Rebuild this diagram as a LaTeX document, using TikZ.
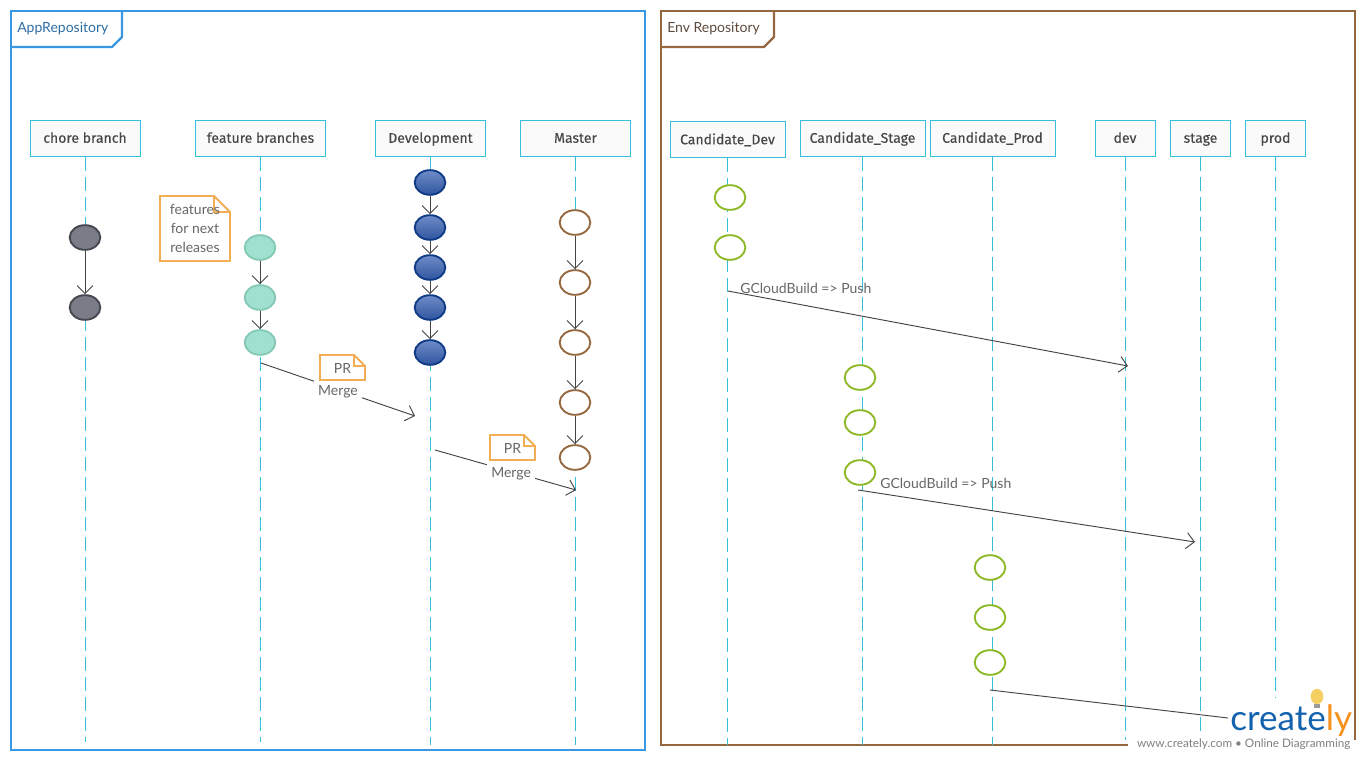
\documentclass[tikz,border=0pt]{standalone}
\usepackage{fontspec}
\setmainfont{Lato}
\newfontfamily\headfont[FakeBold=0.25]{Fira Sans}
\usetikzlibrary{shapes.geometric,arrows.meta,positioning}
\definecolor{appblue}{HTML}{3A97E0}
\definecolor{apptext}{HTML}{2E6DA4}
\definecolor{envbrown}{HTML}{96683F}
\definecolor{envtext}{HTML}{5E4A3C}
\definecolor{cyanline}{HTML}{35C1D9}
\definecolor{notebar}{HTML}{F2AE55}
\definecolor{lineink}{HTML}{444444}
\definecolor{labelink}{HTML}{666666}
\definecolor{limegreen}{HTML}{8DB825}
\definecolor{logoblue}{HTML}{1262AE}
\definecolor{logoorange}{HTML}{F6921E}
\definecolor{bulbyellow}{HTML}{F6CF63}
\definecolor{chorefill}{HTML}{7A7D88}
\definecolor{choreline}{HTML}{44474F}
\definecolor{featfill}{HTML}{A0E0D0}
\definecolor{featline}{HTML}{85C9B5}
\definecolor{devtop}{HTML}{6F8CC8}
\definecolor{devbot}{HTML}{2F559F}
\definecolor{devline}{HTML}{0F3A85}
\begin{document}
\begin{tikzpicture}[
    x=0.75pt, y=-0.75pt,
    head/.style={draw=cyanline, fill=black!2, line width=0.75pt, minimum height=27pt,
                 inner sep=0pt, text height=9.5pt, text depth=2.3pt, text=black!72,
                 font=\headfont\fontsize{10.5}{12}\selectfont},
    life/.style={draw=cyanline, line width=0.75pt, dash pattern=on 10.5pt off 4.5pt},
    frameapp/.style={draw=appblue, line width=1.6pt},
    frameenv/.style={draw=envbrown, line width=1.6pt},
    tabtext/.style={anchor=west, inner sep=0pt, font=\fontsize{10.5}{12}\selectfont},
    commit/.style={ellipse, minimum width=23pt, minimum height=18.5pt, inner sep=0pt, line width=1.4pt},
    chorec/.style={commit, draw=choreline, fill=chorefill},
    featc/.style={commit, draw=featline, fill=featfill},
    devc/.style={commit, draw=devline, top color=devtop, bottom color=devbot},
    mastc/.style={commit, draw=envbrown, fill=white},
    candc/.style={commit, draw=limegreen, fill=white},
    arr/.style={draw=lineink, line width=0.7pt, -{Straight Barb[length=6pt,width=12pt]}},
    note/.style={draw=notebar, fill=white, line width=1.4pt},
    lbl/.style={text=labelink, font=\fontsize{10.5}{14.25}\selectfont, inner sep=0pt},
    mergelbl/.style={lbl, fill=white, inner sep=3pt, yshift=-1.5pt}
]
\useasboundingbox (0,0) rectangle (1365,760);
% frames
\draw[frameapp] (11,11) rectangle (645,750);
\draw[frameapp] (11,47) -- (112,47) -- (122,37) -- (122,11);
\node[tabtext, text=apptext] (apptab) at (17,29) {AppRepository};
\draw[frameenv] (1128,745) -- (661,745) -- (661,11) -- (1355,11) -- (1355,740);
\draw[frameenv] (661,47) -- (764,47) -- (774,37) -- (774,11);
\node[tabtext, text=envtext] (envtab) at (667,29) {Env Repository};
% lifelines and their heads
\foreach \nm/\txt/\cx/\cy/\bw/\yend in {
    chore/chore branch/85/138/110/742,
    feature/feature branches/260.5/138/130/742,
    develop/Development/430.5/138/110/745,
    master/Master/575.5/138/110/745,
    canddev/Candidate\_Dev/727.5/139.5/115/745,
    candstage/Candidate\_Stage/862.5/138/125/745,
    candprod/Candidate\_Prod/992.5/138/125/745,
    dev/dev/1125/138/60/740,
    stage/stage/1200.5/138/60/735,
    prod/prod/1275.5/138/60/710} {
  \node[head, minimum width=\bw*0.75pt] (\nm) at (\cx,\cy) {\txt};
  \coordinate (\nm end) at (\cx,\yend);
  \draw[life] (\nm.south) -- (\nm end);
}
% commits
\foreach \nm/\sty/\cx/\cy in {
    ch1/chorec/85/237.5, ch2/chorec/85/307.5,
    fe1/featc/260/247.5, fe2/featc/260/297.5, fe3/featc/260/342.5,
    de1/devc/430/182.5, de2/devc/430/227.5, de3/devc/430/267.5, de4/devc/430/307.5, de5/devc/430/352.5,
    ma1/mastc/575/222.5, ma2/mastc/575/282.5, ma3/mastc/575/342.5, ma4/mastc/575/402.5, ma5/mastc/575/457.5,
    cd1/candc/730/197.5, cd2/candc/730/247.5,
    cs1/candc/860/377.5, cs2/candc/860/422.5, cs3/candc/860/472.5,
    cp1/candc/990/567.5, cp2/candc/990/617.5, cp3/candc/990/662.5} {
  \node[\sty] (\nm) at (\cx,\cy) {};
}
\foreach \src/\dst in {ch1/ch2,fe1/fe2,fe2/fe3,de1/de2,de2/de3,de3/de4,de4/de5,ma1/ma2,ma2/ma3,ma3/ma4,ma4/ma5} {
  \draw[arr] (\src) -- (\dst);
}
% merges
\coordinate (fromfeat) at (261,363);
\coordinate (todev) at (415,416);
\coordinate (fromdev) at (435,450);
\coordinate (tomast) at (576,490);
\draw[arr] (fromfeat) -- node[mergelbl, pos=.5] (merge1) {Merge} (todev);
\draw[arr] (fromdev) -- node[mergelbl, pos=.54] (merge2) {Merge} (tomast);
% pushes
\coordinate (fromcd) at (728,291);
\coordinate (todevenv) at (1128,366);
\coordinate (fromcs) at (858,490);
\coordinate (tostage) at (1195,542);
\coordinate (fromcp) at (990,690);
\coordinate (toprod) at (1228,718);
\draw[arr] (fromcd) -- (todevenv);
\draw[arr] (fromcs) -- (tostage);
\draw[draw=lineink, line width=0.7pt] (fromcp) -- (toprod);
\node[lbl, anchor=west] (push1) at (740,288) {GCloudBuild => Push};
\node[lbl, anchor=west] (push2) at (880,483) {GCloudBuild => Push};
% notes
\foreach \nm/\x/\y/\w/\h/\e/\tx/\ty/\txt in {
    note1/160/196/70/65/16/195/228/{features\\for next\\releases},
    note2/320/355/45/25/11/342.5/368/PR,
    note3/490/435/45/25/11/512.5/448/PR} {
  \draw[note] (\x,\y) -- ++(\w-\e,0) -- ++(\e,\e) -- ++(0,\h-\e) -- ++(-\w,0) -- cycle;
  \draw[note, fill=none] (\x+\w-\e,\y) -- ++(0,\e) -- ++(\e,0);
  \node[lbl, align=center] (\nm) at (\tx,\ty) {\txt};
}
% logo
\node[fill=white, inner sep=0pt, minimum width=93pt, minimum height=30pt, anchor=south east] (logobg) at (1353,738) {};
\node[fill=white, inner sep=1pt, text=black!50, font=\fontsize{8.8}{11}\selectfont, anchor=east] (logourl) at (1352,744) {www.creately.com • Online Diagramming};
\node[inner sep=0pt, anchor=base west, text=logoblue, font=\fontsize{26.3}{30}\selectfont] (logo) at (1230,730) {create\textcolor{logoorange}{ly}};
\node[fill=black!40, minimum width=4.5pt, minimum height=3pt, inner sep=0pt] (bulbbase) at (1317,706) {};
\node[ellipse, fill=bulbyellow, minimum width=9.5pt, minimum height=11.5pt, inner sep=0pt] (bulb) at (1317,696.5) {};
\end{tikzpicture}
\end{document}
